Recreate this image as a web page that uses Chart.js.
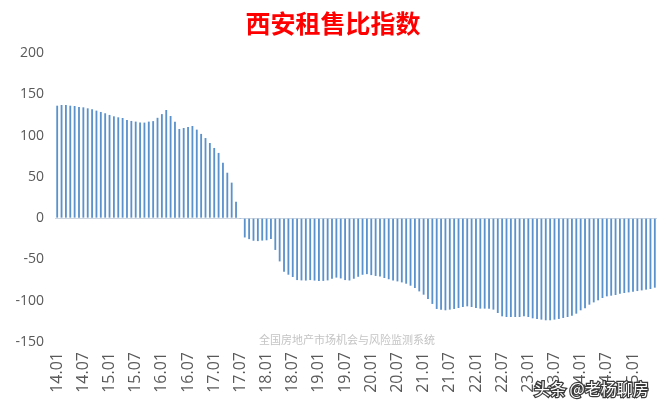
<!DOCTYPE html>
<html>
<head>
<meta charset="utf-8">
<script src="https://cdn.jsdelivr.net/npm/chart.js@4.4.1/dist/chart.umd.min.js"></script>
<style>
  body { margin: 0; background: #ffffff; }
  #wrap { width: 663px; height: 409px; }
</style>
</head>
<body>
<div id="wrap"><canvas id="myChart" width="663" height="409"></canvas></div>
<script>
// datos (2014.01 - 2025.06, mensual)
let startYear = 14;
let totalMonths = 138;

let valores2014_2017 = [
  136.2, 137, 137, 136.2, 135.8, 134.6, 134.2, 133, 131.8, 130.2, 128.6, 127,
  125, 123.3, 122.1, 121.3, 118.9, 117.7, 116.9, 115.7, 115.7, 116.9, 117.5, 121.5,
  126, 131, 123.7, 116.7, 108, 109.2, 110.4, 111.6, 107.2, 102, 97, 91,
  85, 79, 67, 55, 43, 20, -1, -23.4, -25.4, -27.4, -27.8, -27.2
];
let valores2018_2021 = [
  -26.8, -25.4, -38.5, -52.4, -65, -68.5, -71.3, -75, -75.4, -75.6, -75, -75.6,
  -76.2, -76, -75.4, -73.4, -72, -73, -75, -75.5, -73.4, -71, -68.6, -67.8,
  -69, -70, -70.8, -72.5, -74, -75.4, -76.6, -77.8, -79.4, -81.8, -84.6, -88.7,
  -92.7, -97.9, -103.9, -110, -110.8, -111.6, -110.8, -110, -108.8, -107.6, -106.8, -107.6
];
let valores2022_2025 = [
  -108.8, -109.6, -109.6, -109.6, -110.8, -114.9, -118.9, -119.7, -119.7, -119.7, -119.7,
  -118.9, -119.7, -121.3, -122.1, -122.9, -123.7, -123.7, -122.9, -122.1, -120.9, -119.7,
  -118.1, -115.7, -111.6, -109.2, -104.8, -102, -99.5, -96.7, -94.7, -93.9, -93.1,
  -91.5, -90.7, -89.9, -89.1, -88.3, -87.5, -86.6, -85.8, -84.2
];
let valores = [...valores2014_2017, ...valores2018_2021, ...valores2022_2025];

let yTicks = [200, 150, 100, 50, 0, -50, -100, -150];

let meses = [];
for (let i = 0; i < totalMonths; i++) {
  let yy = startYear + Math.floor(i / 12);
  let mm = (i % 12) + 1;
  meses.push(`${yy}.${mm < 10 ? '0' + mm : mm}`);
}

let titulo = "西安租售比指数";
let marcaCentro = "全国房地产市场机会与风险监测系统";
let marcaEsquina = "头条 @老杨聊房";

const textos = {
  id: 'textos',
  afterDraw(chart) {
    const c = chart.ctx;
    c.save();
    c.textAlign = 'center';
    c.textBaseline = 'middle';
    c.fillStyle = '#ff0000';
    c.font = 'bold 25px "Noto Sans CJK SC"';
    c.fillText(titulo, 333, 23);

    c.fillStyle = '#c4c4c4';
    c.font = '11px "Noto Sans CJK SC"';
    c.fillText(marcaCentro, 347, 340);

    c.textAlign = 'left';
    c.font = '16px "Noto Sans CJK SC"';
    c.lineWidth = 2.5;
    c.strokeStyle = '#3a3a3a';
    c.strokeText(marcaEsquina, 534, 389);
    c.fillStyle = '#ffffff';
    c.fillText(marcaEsquina, 534, 389);
    c.restore();
  }
};

const ctx = document.getElementById('myChart');
new Chart(ctx, {
  type: 'bar',
  data: {
    labels: meses,
    datasets: [{
      data: valores,
      backgroundColor: '#5b92cc',
      barPercentage: 0.42,
      categoryPercentage: 1
    }]
  },
  options: {
    responsive: false,
    animation: false,
    layout: { padding: { top: 53, right: 6, left: 0, bottom: 0 } },
    plugins: {
      legend: { display: false },
      title: { display: false },
      tooltip: { enabled: false }
    },
    scales: {
      x: {
        grid: { display: false, drawTicks: false },
        border: { display: false },
        afterFit: (scale) => {
          scale.height = 67;
          scale.paddingRight = 0;
          scale.paddingLeft = 0;
        },
        ticks: {
          autoSkip: false,
          minRotation: 90,
          maxRotation: 90,
          padding: 10,
          color: '#595959',
          font: { family: 'Open Sans', size: 16 },
          callback: function(val, idx) {
            return idx % 6 === 0 ? meses[idx] : '';
          }
        }
      },
      y: {
        min: -150,
        max: 200,
        afterFit: (scale) => { scale.width = 55; },
        afterBuildTicks: (scale) => { scale.ticks = yTicks.map(v => ({ value: v })); },
        border: { display: false },
        grid: {
          drawTicks: false,
          lineWidth: 1,
          color: (c) => (c.tick && c.tick.value === 0 ? '#cdd6e0' : 'rgba(0,0,0,0)')
        },
        ticks: {
          padding: 11,
          color: '#595959',
          font: { family: 'Open Sans', size: 14 }
        }
      }
    }
  },
  plugins: [textos]
});
</script>
</body>
</html>
